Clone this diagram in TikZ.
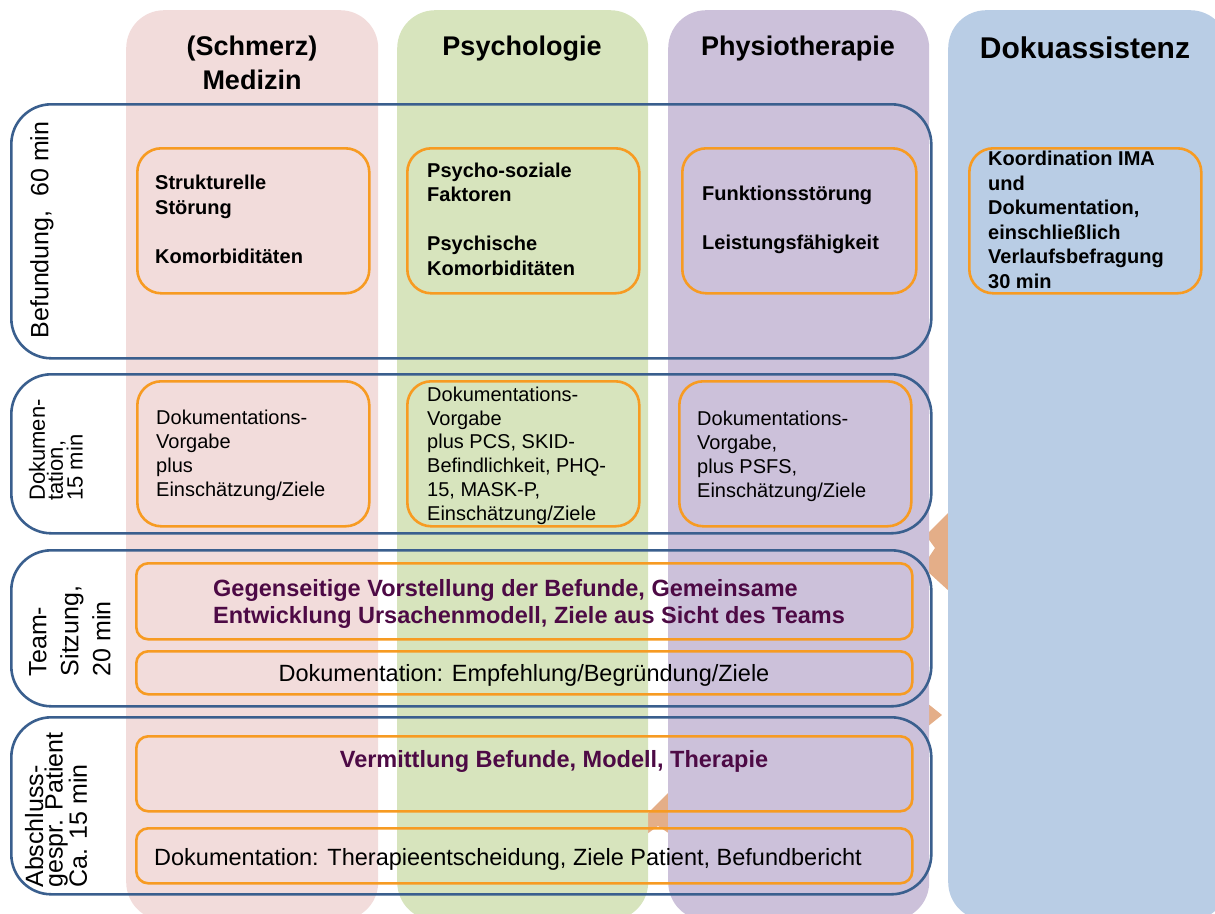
\documentclass[tikz,border=0pt]{standalone}
\usepackage{fontspec}
\setmainfont{Liberation Sans}
\definecolor{pinkc}{HTML}{F2DCDB}
\definecolor{greenc}{HTML}{D7E4BD}
\definecolor{purplec}{HTML}{CCC1DA}
\definecolor{bluec}{HTML}{B9CDE5}
\definecolor{rowblue}{HTML}{3A5F8E}
\definecolor{orangec}{HTML}{F79B22}
\definecolor{chevc}{HTML}{E4AE88}
\definecolor{purpletxt}{HTML}{4D0A45}
\begin{document}
\begin{tikzpicture}[x=1pt,y=-1pt,
  col/.style={rectangle, rounded corners=38pt, inner sep=0pt, anchor=north west, draw=none},
  rowbox/.style={rectangle, rounded corners=40pt, draw=rowblue, line width=2.6pt, inner sep=0pt, anchor=north west},
  obox/.style={rectangle, rounded corners=24pt, draw=orangec, line width=2.6pt, inner sep=0pt, anchor=north west},
  obar/.style={obox, rounded corners=12pt},
  hdr/.style={font=\fontsize{27}{34}\selectfont\bfseries, align=center, inner sep=0pt, anchor=base},
  btxt/.style={font=\fontsize{20}{24.5}\selectfont\bfseries, align=left, anchor=base west, inner sep=0pt},
  ntxt/.style={font=\fontsize{20}{23.7}\selectfont, align=left, anchor=base west, inner sep=0pt},
  ptxt/.style={font=\fontsize{23.5}{27}\selectfont\bfseries, text=purpletxt, align=left, inner sep=0pt},
  dtxt/.style={font=\fontsize{23.5}{28}\selectfont, inner sep=0pt, anchor=base},
  lbl/.style={rotate=90, align=left, inner sep=0pt},
  chev/.style={fill=chevc, draw=none}]
\useasboundingbox (0,0) rectangle (1215,913);
% chevron fragments behind the columns
\fill[chev] (950,511) -- (927,534) -- (927,537) -- (935,548) -- (927,560) -- (927,571) -- (950,592) -- cycle;
\fill[chev] (927,703) -- (942,715) -- (927,727) -- cycle;
\fill[chev] (670,791) -- (647,814) -- (647,834) -- (658,826) -- (670,834) -- cycle;
% columns
\node[col, fill=pinkc, minimum width=252pt, minimum height=910pt] (cMed) at (126,10) {};
\node[col, fill=greenc, minimum width=251pt, minimum height=910pt] (cPsy) at (397,10) {};
\node[col, fill=purplec, minimum width=261pt, minimum height=910pt] (cPhy) at (668,10) {};
\node[col, fill=bluec, minimum width=280pt, minimum height=910pt] (cDok) at (948,10) {};
% headers
\node[hdr] (hMed) at (252,89.7) {(Schmerz)\\Medizin};
\node[hdr] (hPsy) at (522,55.5) {Psychologie};
\node[hdr] (hPhy) at (798,55.5) {Physiotherapie};
\node[hdr, font=\fontsize{30}{36}\selectfont\bfseries] (hDok) at (1085,58) {Dokuassistenz};
% row frames
\node[rowbox, minimum width=920pt, minimum height=254pt] (rB) at (10,103) {};
\node[rowbox, minimum width=920pt, minimum height=159pt] (rD) at (10,373) {};
\node[rowbox, minimum width=920pt, minimum height=156pt] (rT) at (10,549) {};
\node[rowbox, minimum width=920pt, minimum height=177pt] (rA) at (10,716) {};
% row labels
\node[lbl, font=\fontsize{25}{28}\selectfont] (lB) at (42,230) {Befundung,\ \ 60 min};
\node[lbl, font=\fontsize{22}{18}\selectfont] (lD) at (56,450) {Dokumen-\\tation,\\15 min};
\node[lbl, font=\fontsize{25}{32}\selectfont] (lT) at (70,631) {Team-\\Sitzung,\\20 min};
\node[lbl, font=\fontsize{25}{19.5}\selectfont] (lA) at (56,810) {Abschluss-\\gespr. Patient\\Ca. 15 min};
% Befundung boxes
\node[obox, minimum width=232pt, minimum height=145pt] (oB1) at (136,147) {};
\node[obox, minimum width=232pt, minimum height=145pt] (oB2) at (406,147) {};
\node[obox, minimum width=234pt, minimum height=145pt] (oB3) at (681,147) {};
\node[obox, minimum width=232pt, minimum height=145pt] (oB4) at (968,147) {};
\node[btxt] (tB1) at (155,263) {Strukturelle\\St\"orung\\[24.5pt]Komorbidit\"aten};
\node[btxt] (tB2) at (427,275) {Psycho-soziale\\Faktoren\\[24.5pt]Psychische\\Komorbidit\"aten};
\node[btxt] (tB3) at (702,249) {Funktionsst\"orung\\[24.5pt]Leistungsf\"ahigkeit};
\node[btxt] (tB4) at (988,288) {Koordination IMA\\und\\Dokumentation,\\einschlie\ss lich\\Verlaufsbefragung\\30 min};
% Dokumentation boxes
\node[obox, minimum width=232pt, minimum height=145pt] (oD1) at (136,380) {};
\node[obox, minimum width=232pt, minimum height=145pt] (oD2) at (406,380) {};
\node[obox, minimum width=232pt, minimum height=145pt] (oD3) at (678,380) {};
\node[ntxt] (tD1) at (156,496) {Dokumentations-\\Vorgabe\\plus\\Einsch\"atzung/Ziele};
\node[ntxt] (tD2) at (427,520) {Dokumentations-\\Vorgabe\\plus PCS, SKID-\\Befindlichkeit, PHQ-\\15, MASK-P,\\Einsch\"atzung/Ziele};
\node[ntxt] (tD3) at (697,497) {Dokumentations-\\Vorgabe,\\plus PSFS,\\Einsch\"atzung/Ziele};
% Team-Sitzung
\node[obar, minimum width=776pt, minimum height=76pt] (oT1) at (135,562) {};
\node[obar, minimum width=776pt, minimum height=43pt] (oT2) at (135,650) {};
\node[ptxt, anchor=base west] (tT1) at (213,623.5) {Gegenseitige Vorstellung der Befunde, Gemeinsame\\Entwicklung Ursachenmodell, Ziele aus Sicht des Teams};
\node[dtxt] (tT2) at (524,681.5) {Dokumentation: Empfehlung/Begr\"undung/Ziele};
% Abschluss
\node[obar, minimum width=776pt, minimum height=75pt] (oA1) at (135,735) {};
\node[obar, minimum width=776pt, minimum height=55pt] (oA2) at (135,827) {};
\node[ptxt, anchor=base] (tA1) at (554,767.5) {Vermittlung Befunde, Modell, Therapie};
\node[dtxt] (tA2) at (508,865.5) {Dokumentation: Therapieentscheidung, Ziele Patient, Befundbericht};
\end{tikzpicture}
\end{document}
